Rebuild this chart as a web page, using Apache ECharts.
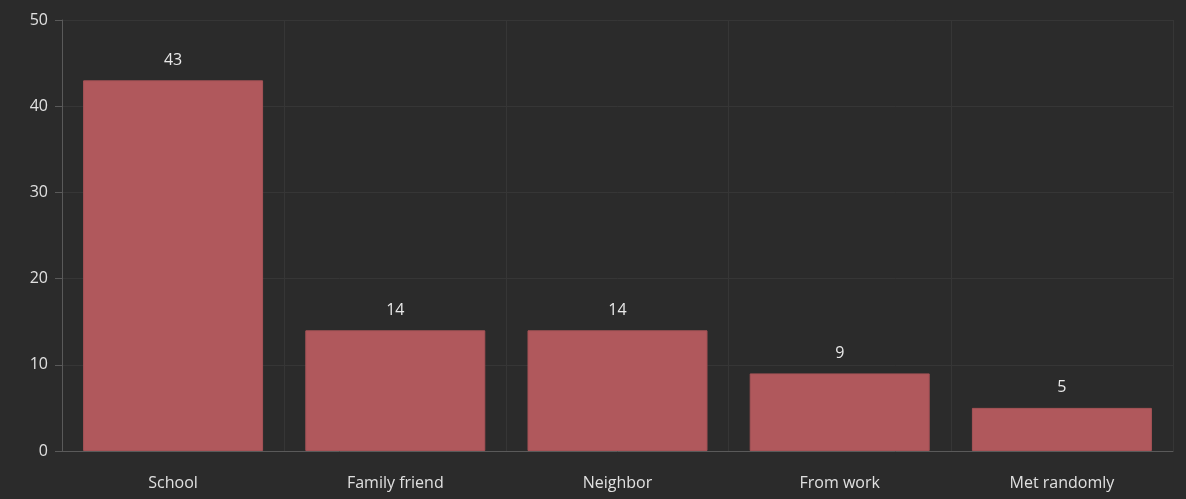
<!DOCTYPE html>
<html>
<head>
<meta charset="utf-8">
<script src="https://cdn.jsdelivr.net/npm/echarts@6/dist/echarts.min.js"></script>
<style>
  html, body { margin: 0; padding: 0; background: #2b2b2b; }
  #chart { width: 1186px; height: 499px; }
</style>
</head>
<body>
<div id="chart"></div>
<script>
const categories = ["School", "Family friend", "Neighbor", "From work", "Met randomly"];
const counts = [43, 14, 14, 9, 5];
const yTicks = { min: 0, max: 50, interval: 10 };

const chart = echarts.init(document.getElementById("chart"));
chart.setOption({
  backgroundColor: "#2b2b2b",
  textStyle: { fontFamily: "Open Sans" },
  grid: { left: 62, right: 13, top: 20, bottom: 48 },
  xAxis: {
    type: "category",
    data: categories,
    axisLine: { lineStyle: { color: "#5a5a5a" } },
    axisTick: { alignWithLabel: true, length: 6, lineStyle: { color: "#5a5a5a" } },
    axisLabel: { color: "#e0e0e0", fontSize: 16, margin: 24 },
    splitLine: { show: true, lineStyle: { color: "#363636" } }
  },
  yAxis: {
    type: "value",
    min: yTicks.min,
    max: yTicks.max,
    interval: yTicks.interval,
    axisLine: { show: true, lineStyle: { color: "#5a5a5a" } },
    axisTick: { show: true, length: 7, lineStyle: { color: "#5a5a5a" } },
    axisLabel: { color: "#e0e0e0", fontSize: 16, margin: 14 },
    splitLine: { lineStyle: { color: "#363636" } }
  },
  series: [
    {
      type: "bar",
      data: counts,
      barWidth: "81%",
      itemStyle: { color: "#b0585c", borderColor: "#a65357", borderWidth: 1 },
      label: {
        show: true,
        position: "top",
        distance: 12,
        color: "#e8e8e8",
        fontSize: 16
      }
    }
  ]
});
</script>
</body>
</html>
